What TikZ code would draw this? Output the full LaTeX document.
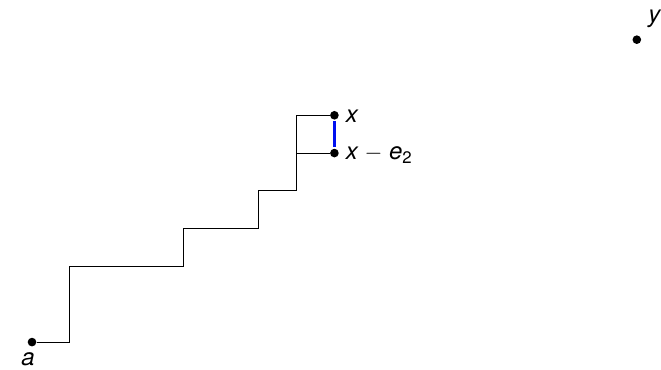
\documentclass[tikz,border=0pt]{standalone}
\usepackage{fontspec}
\setmainfont{TeX Gyre Heros}
\usetikzlibrary{positioning}
\definecolor{PathBlue}{HTML}{0010F0}
\tikzset{
 dot/.style={circle, fill=black, inner sep=0pt, minimum size=6.5pt},
 lbl/.style={font=\fontsize{18}{20}\selectfont\itshape, inner sep=1pt, text depth=0pt},
 stair/.style={draw=black, line width=0.6pt},
 edgeblue/.style={draw=PathBlue, line width=1.8pt, shorten >=1pt, shorten <=1pt}
}
\begin{document}
\begin{tikzpicture}
\useasboundingbox (-0.847,-0.714) rectangle (16.64,9.05);
% points
\node[dot] (a) at (0,0) {};
\node[dot] (x) at (8,6) {};
\node[dot] (xe) at (8,5) {};
\node[dot] (y) at (16,8) {};
\node[lbl, below=3pt of a, xshift=-3pt] {a};
\node[lbl, right=4pt of x, yshift=-1pt] {x};
\node[lbl, right=4pt of xe] {x $-$ e\textsubscript{\textup{2}}};
\node[lbl, text depth=, above right=5pt and 5pt of y] {y};
% staircase
\draw[stair] (a) -- (1,0) |- (4,2) |- (6,3) |- (7,4) |- (x);
\draw[stair] (7,5) -- (xe);
\draw[edgeblue] (x) -- (xe);
\end{tikzpicture}
\end{document}
